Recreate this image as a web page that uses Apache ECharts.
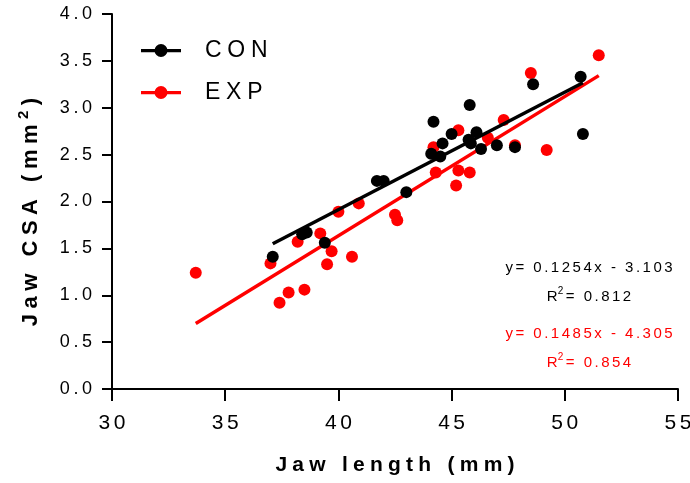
<!DOCTYPE html>
<html>
<head>
<meta charset="utf-8">
<script src="https://cdn.jsdelivr.net/npm/echarts@6/dist/echarts.min.js"></script>
<style>
  html, body { margin: 0; padding: 0; background: #fff; }
  #chart { width: 690px; height: 483px; }
</style>
</head>
<body>
<div id="chart"></div>
<script>
// Jaw length (mm) vs jaw cross-sectional area (mm²), two groups
const conLength = [37.1, 38.4, 38.6, 39.4, 41.7, 42.0, 43.0, 44.1, 44.2, 44.5, 44.6,
                   45.0, 45.75, 45.8, 45.85, 46.1, 46.3, 47.0, 47.8, 48.6, 50.7, 50.8];
const conCSA    = [1.41, 1.65, 1.67, 1.56, 2.22, 2.22, 2.10, 2.51, 2.85, 2.48, 2.62,
                   2.72, 2.66, 3.03, 2.62, 2.74, 2.56, 2.60, 2.58, 3.25, 3.33, 2.72];

const expLength = [33.7, 37.0, 37.4, 37.8, 38.2, 38.5, 39.2, 39.5, 39.7, 40.0, 40.6, 40.9, 42.5,
                   42.6, 44.2, 44.3, 45.2, 45.3, 45.3, 45.8, 46.6, 47.3, 47.8, 48.5, 49.2, 51.5];
const expCSA    = [1.24, 1.34, 0.92, 1.03, 1.57, 1.06, 1.66, 1.33, 1.47, 1.89, 1.41, 1.98, 1.86,
                   1.80, 2.58, 2.31, 2.17, 2.33, 2.76, 2.31, 2.68, 2.87, 2.60, 3.37, 2.55, 3.56];

// Linear fits: slope, intercept, R²
const conFit = [0.1254, -3.103, 0.812];
const expFit = [0.1485, -4.305, 0.854];

const groupNames = ['CON', 'EXP'];
const xTicks = [30, 55, 5];   // min, max, step
const yTicks = [0, 4, 0.5];

const FONT = '"Liberation Sans", Arial, Helvetica, sans-serif';
const BLACK = '#000000';
const RED = '#ff0000';

// wide tracking: put a narrow space between every character
const spread = (s, gap) => String(s).split('').join(gap);
const THIN = '\u2009', QUARTER = '\u2005', SIXTH = '\u2006';

const pairs = (xs, ys) => xs.map((x, i) => [x, ys[i]]);
const fitLine = (xs, fit) => {
  const lo = Math.min(...xs), hi = Math.max(...xs);
  return [[lo, fit[0] * lo + fit[1]], [hi, fit[0] * hi + fit[1]]];
};
const eqText = fit => spread('y= ' + fit[0] + 'x ' + (fit[1] < 0 ? '- ' : '+ ') + Math.abs(fit[1]), SIXTH);
const r2Text = fit => 'R{sup|2}' + SIXTH + spread('= ' + fit[2].toFixed(3), SIXTH);

// legend glyph: a short bar with a dot in the middle
const legendIcon = 'path://M0,5 L40,5 L40,8.2 L0,8.2 Z M26.5,6.5 A6.5,6.5 0 1,1 13.5,6.5 A6.5,6.5 0 1,1 26.5,6.5 Z';

const chart = echarts.init(document.getElementById('chart'), null, { renderer: 'canvas' });

const legendCommon = {
  orient: 'vertical',
  left: 141,
  padding: 0,
  itemWidth: 40,
  itemHeight: 13,
  icon: legendIcon,
  selectedMode: false,
  formatter: name => spread(name, QUARTER),
  textStyle: { fontFamily: FONT, fontSize: 23, color: BLACK, padding: [0, 0, 0, 19] }
};

const annotation = (text, color, y) => ({
  type: 'text',
  x: 589,
  y: y,
  style: {
    text: text,
    fill: color,
    font: '15px ' + FONT,
    lineHeight: 22,
    align: 'center',
    verticalAlign: 'middle',
    rich: { sup: { fontSize: 10, fill: color, fontFamily: FONT, verticalAlign: 'top', lineHeight: 10 } }
  },
  z: 100
});

chart.setOption({
  animation: false,
  backgroundColor: '#ffffff',
  grid: { left: 112, right: 12, top: 14, bottom: 94, containLabel: false, outerBoundsMode: 'none' },
  legend: [
    Object.assign({}, legendCommon, { data: [groupNames[0]], top: 39 }),
    Object.assign({}, legendCommon, { data: [groupNames[1]], top: 81 })
  ],
  xAxis: {
    type: 'value',
    min: xTicks[0], max: xTicks[1], interval: xTicks[2],
    name: spread('Jaw length (mm)', QUARTER),
    nameLocation: 'middle',
    nameGap: 66,
    nameTextStyle: { fontFamily: FONT, fontSize: 21, fontWeight: 'bold', color: BLACK },
    axisLine: { show: true, onZero: false, lineStyle: { color: BLACK, width: 2 } },
    axisTick: { show: true, length: 12, lineStyle: { color: BLACK, width: 2 } },
    axisLabel: { margin: 24, fontFamily: FONT, fontSize: 21, color: BLACK,
                 formatter: v => spread(v, SIXTH) },
    splitLine: { show: false }
  },
  yAxis: {
    type: 'value',
    min: yTicks[0], max: yTicks[1], interval: yTicks[2],
    axisLine: { show: true, onZero: false, lineStyle: { color: BLACK, width: 2 } },
    axisTick: { show: true, length: 10, lineStyle: { color: BLACK, width: 2 } },
    axisLabel: { margin: 20, fontFamily: FONT, fontSize: 18, color: BLACK,
                 formatter: v => spread(v.toFixed(1), THIN) },
    splitLine: { show: false }
  },
  series: [
    {
      name: 'EXP fit', type: 'line', data: fitLine(expLength, expFit),
      symbol: 'none', silent: true, z: 2,
      lineStyle: { color: RED, width: 3.5 }
    },
    {
      name: groupNames[1], type: 'scatter', data: pairs(expLength, expCSA),
      symbolSize: 12, z: 3,
      itemStyle: { color: RED, opacity: 1 }
    },
    {
      name: 'CON fit', type: 'line', data: fitLine(conLength, conFit),
      symbol: 'none', silent: true, z: 4,
      lineStyle: { color: BLACK, width: 3.5 }
    },
    {
      name: groupNames[0], type: 'scatter', data: pairs(conLength, conCSA),
      symbolSize: 12, z: 5,
      itemStyle: { color: BLACK, opacity: 1 }
    }
  ],
  graphic: [
    // y-axis title, reading bottom to top
    {
      type: 'text',
      x: 31,
      y: 212,
      rotation: Math.PI / 2,
      style: {
        text: spread('Jaw CSA (mm', QUARTER) + QUARTER + '{sup|2}' + QUARTER + ')',
        fill: BLACK,
        font: 'bold 22px ' + FONT,
        lineHeight: 29,
        align: 'center',
        verticalAlign: 'middle',
        rich: { sup: { fontFamily: FONT, fontSize: 15, fontWeight: 'bold', fill: BLACK,
                       verticalAlign: 'top', lineHeight: 15 } }
      }
    },
    annotation(eqText(conFit), BLACK, 268),
    annotation(r2Text(conFit), BLACK, 297),
    annotation(eqText(expFit), RED, 334),
    annotation(r2Text(expFit), RED, 363)
  ]
});
</script>
</body>
</html>
